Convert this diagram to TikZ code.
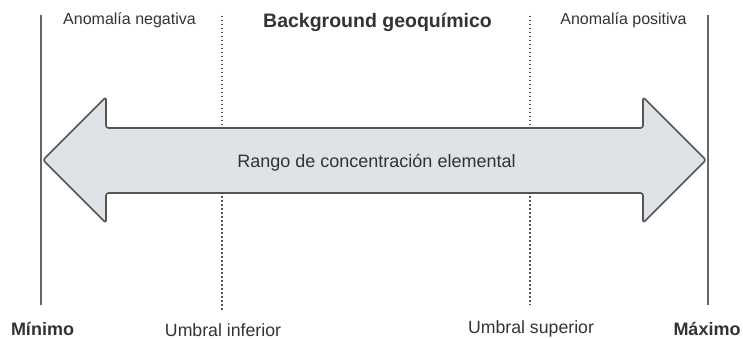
\documentclass[tikz,border=0pt]{standalone}
\usepackage{fontspec}
\setmainfont{Liberation Sans}
\definecolor{arrowfill}{HTML}{DFE2E7}
\definecolor{edge}{HTML}{555555}
\definecolor{linegray}{HTML}{666666}
\definecolor{txt}{HTML}{333333}
\begin{document}
\begin{tikzpicture}[x=1pt,y=-1pt,
  bound/.style={draw=linegray,line width=1.4pt},
  thresh/.style={draw=edge,line width=1.5pt,dash pattern=on 1.5pt off 2.5pt},
  lbl/.style={text=txt,font=\fontsize{16}{18}\selectfont,inner sep=0pt},
  mid/.style={text=txt,font=\fontsize{18}{20}\selectfont,inner sep=0pt},
  title/.style={text=txt,font=\bfseries\fontsize{19.5}{22}\selectfont,inner sep=0pt},
  bot/.style={text=txt,font=\fontsize{17.7}{20}\selectfont,inner sep=0pt},
  botb/.style={text=txt,font=\bfseries\fontsize{18}{20}\selectfont,inner sep=0pt}]
\useasboundingbox (0,0) rectangle (743,339);
% boundary lines
\coordinate (minT) at (41,15); \coordinate (minB) at (41,305);
\coordinate (maxT) at (708,15); \coordinate (maxB) at (708,305);
\coordinate (infT) at (222,16); \coordinate (infB) at (222,311);
\coordinate (supT) at (530,16); \coordinate (supB) at (530,305);
\draw[bound] (minT) -- (minB);
\draw[bound] (maxT) -- (maxB);
\draw[thresh] (infT) -- (infB);
\draw[thresh] (supT) -- (supB);
% double arrow
\draw[draw=edge,fill=arrowfill,line width=1.6pt,rounded corners=2.5pt,line join=round]
  (43,160) -- (106,97) -- (106,128) -- (643,128) -- (643,97) -- (706,160)
  -- (643,223) -- (643,193) -- (106,193) -- (106,223) -- cycle;
\node[mid] (rango) at (376.5,163) {Rango de concentración elemental};
% top labels
\node[lbl] (neg) at (129.5,20) {Anomalía negativa};
\node[title] (bg) at (377.5,22) {Background geoquímico};
\node[lbl] (pos) at (623.5,20) {Anomalía positiva};
% bottom labels
\node[botb] (min) at (42.5,328.5) {Mínimo};
\node[bot] (inf) at (223,330) {Umbral inferior};
\node[bot] (sup) at (531,329) {Umbral superior};
\node[botb] (max) at (707,328.5) {Máximo};
\end{tikzpicture}
\end{document}
